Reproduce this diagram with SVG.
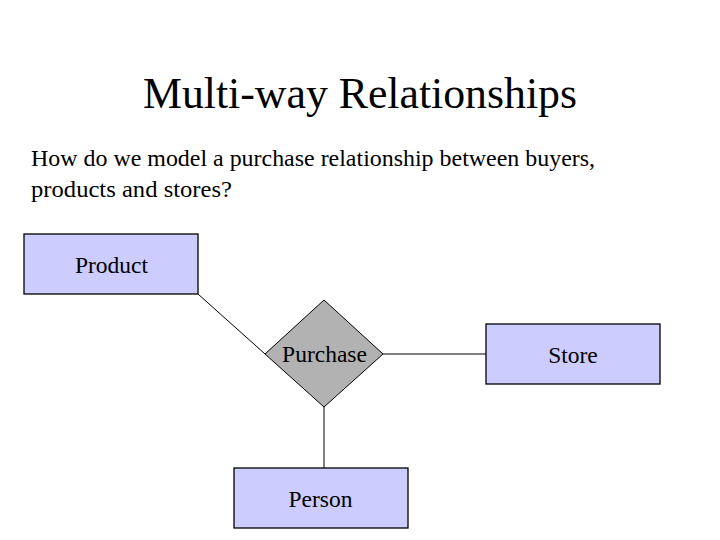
<svg xmlns="http://www.w3.org/2000/svg" width="720" height="540" viewBox="0 0 720 540">
<style>
text{font-family:"Liberation Serif","Times New Roman",serif;fill:#000}
.ent{fill:#ccccff;stroke:#000;stroke-width:1.3}
.rel{fill:#b2b2b2;stroke:#000;stroke-width:1}
.lbl{font-size:23.5px;text-anchor:middle}
.edge{stroke:#000;stroke-width:1;fill:none}
</style>
<rect width="720" height="540" fill="#fff"/>
<text x="360" y="108" font-size="44" text-anchor="middle" textLength="434" lengthAdjust="spacingAndGlyphs">Multi-way Relationships</text>
<text x="31" y="166" font-size="24" textLength="564" lengthAdjust="spacingAndGlyphs">How do we model a purchase relationship between buyers,</text>
<text x="31" y="197" font-size="24" textLength="201" lengthAdjust="spacingAndGlyphs">products and stores?</text>
<g id="connectors">
<line class="edge" x1="198" y1="294" x2="265" y2="354"/>
<line class="edge" x1="383" y1="354" x2="486" y2="354"/>
<line class="edge" x1="324" y1="407" x2="324" y2="468"/>
</g>
<g id="product">
<rect class="ent" x="24" y="234" width="174" height="60"/>
<text class="lbl" x="111.5" y="273">Product</text>
</g>
<g id="purchase">
<polygon class="rel" points="324,300 383,354 324,407 265,354"/>
<text class="lbl" x="324.5" y="362">Purchase</text>
</g>
<g id="store">
<rect class="ent" x="486" y="324" width="174" height="60"/>
<text class="lbl" x="573" y="363">Store</text>
</g>
<g id="person">
<rect class="ent" x="234" y="468" width="174" height="60"/>
<text class="lbl" x="320.5" y="507">Person</text>
</g>
</svg>
